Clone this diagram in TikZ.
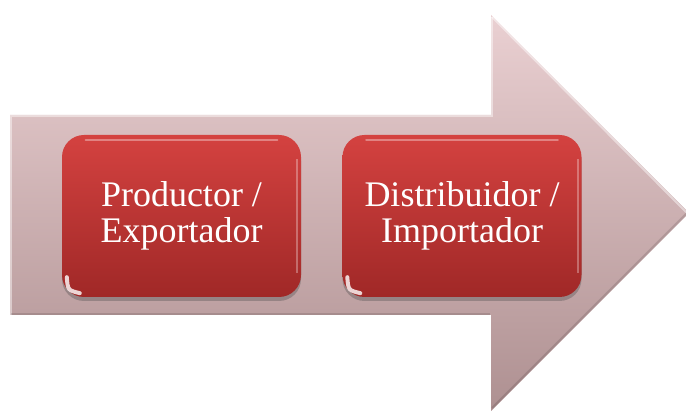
\documentclass[tikz,border=0pt]{standalone}
\usepackage{fontspec}
\setmainfont{Liberation Serif}
\usetikzlibrary{shadows}
\definecolor{arrowtop}{RGB}{234,208,210}
\definecolor{arrowbot}{RGB}{174,144,145}
\definecolor{boxtop}{RGB}{212,66,64}
\definecolor{boxbot}{RGB}{160,40,39}
\tikzset{
  redbox/.style={rounded corners=22pt, top color=boxtop, bottom color=boxbot,
    minimum width=239pt, minimum height=162pt, inner sep=0pt,
    text=white, font=\fontsize{36}{36}\selectfont, align=center,
    drop shadow={shadow xshift=0pt, shadow yshift=-4pt, opacity=0.35, fill=black!70}},
  gloss/.style={white, opacity=0.35, line width=2.5pt, line cap=round},
  bevellight/.style={white, opacity=0.45, line width=2pt},
  beveldark/.style={black, opacity=0.12, line width=2pt}
}
\begin{document}
\begin{tikzpicture}[x=1pt,y=-1pt]
\useasboundingbox (0,0) rectangle (686,411);
% big arrow
\shade[top color=arrowtop, bottom color=arrowbot]
  (10,115) -- (491,115) -- (491,15) -- (689,213) -- (491,411) -- (491,315) -- (10,315) -- cycle;
\draw[bevellight] (11,316) -- (11,116) -- (492,116) -- (492,17);
\draw[bevellight] (492,17) -- (687,213);
\draw[beveldark] (687,213) -- (492,408);
\draw[beveldark] (11,314) -- (490,314);
% boxes
\node[redbox] (p1) at (181.5,216) {Productor /\\Exportador};
\node[redbox] (p2) at (462,216) {Distribuidor /\\Importador};
% gloss highlights
\foreach \b in {p1,p2}{
  \draw[gloss] ([xshift=24pt,yshift=-5pt]\b.north west) -- ([xshift=-24pt,yshift=-5pt]\b.north east);
  \draw[white, opacity=0.3, line width=2pt] ([xshift=-4pt,yshift=-24pt]\b.north east) -- ([xshift=-4pt,yshift=24pt]\b.south east);
  \draw[white, opacity=0.8, line width=4pt, line cap=round]
    ([xshift=5pt,yshift=20pt]\b.south west) .. controls ([xshift=6pt,yshift=7pt]\b.south west) .. ([xshift=18pt,yshift=4pt]\b.south west);
}
\end{tikzpicture}
\end{document}
